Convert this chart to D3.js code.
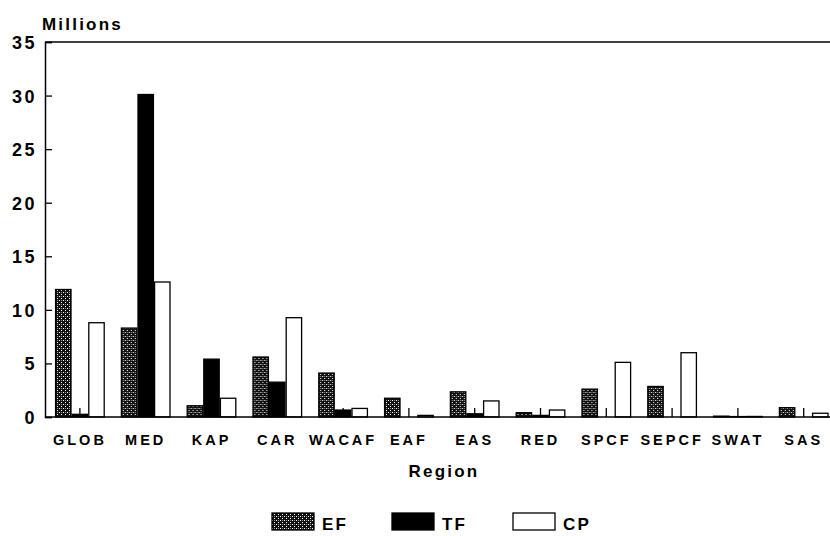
<!DOCTYPE html>
<html><head><meta charset="utf-8">
<script src="https://cdn.jsdelivr.net/npm/d3@7"></script>
<style>
html,body{margin:0;padding:0;background:#fff;}
text{font-family:"Liberation Sans",Arial,sans-serif;font-weight:bold;fill:#000;}
</style></head>
<body><svg id="c" width="830" height="536"></svg>
<script>
const regions = ["GLOB","MED","KAP","CAR","WACAF","EAF","EAS","RED","SPCF","SEPCF","SWAT","SAS"];
const seriesNames = ["EF","TF","CP"];
const EF = [11.9, 8.3, 1.05, 5.6, 4.1, 1.75, 2.35, 0.4, 2.6, 2.85, 0.08, 0.87];
const TF = [0.25, 30.1, 5.4, 3.25, 0.65, 0, 0.3, 0.15, 0, 0, 0.04, 0];
const CP = [8.8, 12.6, 1.75, 9.27, 0.8, 0.15, 1.5, 0.65, 5.1, 6.0, 0.05, 0.35];
const yTicks = [0,5,10,15,20,25,30,35];

const svg = d3.select("#c");
const defs = svg.append("defs");
const pat = defs.append("pattern").attr("id","dots").attr("patternUnits","userSpaceOnUse")
  .attr("width",4).attr("height",4);
pat.append("rect").attr("width",4).attr("height",4).attr("fill","#111");
pat.append("rect").attr("x",0).attr("y",0).attr("width",1).attr("height",1).attr("fill","#fff");
pat.append("rect").attr("x",2).attr("y",2).attr("width",1).attr("height",1).attr("fill","#fff");
pat.append("rect").attr("x",2).attr("y",0).attr("width",1).attr("height",1).attr("fill","#888");

const fills = {EF:"url(#dots)", TF:"#000", CP:"#fff"};
const values = {EF, TF, CP};

const x0 = d3.scaleBand().domain(regions).range([47, 47 + 12*65.8]).paddingInner(0.243).paddingOuter(0.1215);
const x1 = d3.scaleBand().domain(seriesNames).range([0, x0.bandwidth()]);
const y = d3.scaleLinear().domain([0,35]).range([417,42]);

// frame: top line
svg.append("line").attr("x1",45).attr("x2",830).attr("y1",y(35)).attr("y2",y(35)).attr("stroke","#000").attr("stroke-width",1.3);

// bars
regions.forEach((r,i)=>{
  const g = svg.append("g").attr("transform",`translate(${x0(r)},0)`);
  seriesNames.forEach(s=>{
    const v = values[s][i];
    if (v <= 0) return;
    g.append("rect")
      .attr("x", x1(s)+0.6).attr("width", x1.bandwidth()-1.2)
      .attr("y", y(v)).attr("height", y(0)-y(v))
      .attr("fill", fills[s]).attr("stroke","#000").attr("stroke-width",1.3);
  });
});

// y axis
const yAxis = d3.axisLeft(y).tickValues(yTicks).tickSize(-7).tickPadding(8).tickFormat(d3.format("d"));
const ya = svg.append("g").attr("transform","translate(45,0)").call(yAxis);
ya.select(".domain").attr("stroke","#000").attr("stroke-width",1.5);
ya.selectAll(".tick line").attr("stroke","#000").attr("stroke-width",1.3);
ya.selectAll(".tick text").attr("font-size",18).attr("font-family","Liberation Sans, Arial, sans-serif")
  .attr("font-weight","bold").attr("letter-spacing",2.5).attr("fill","#000").attr("dy","0.36em");

// x axis
const xAxis = d3.axisBottom(x0).tickSize(-9).tickPadding(18);
const xa = svg.append("g").attr("transform","translate(0,417)").call(xAxis);
xa.select(".domain").attr("d","M45,0H830").attr("stroke","#000").attr("stroke-width",1.5);
xa.selectAll(".tick line").attr("stroke","#000").attr("stroke-width",1.3);
xa.selectAll(".tick text").attr("font-size",14.5).attr("font-family","Liberation Sans, Arial, sans-serif")
  .attr("font-weight","bold").attr("letter-spacing",3).attr("fill","#000").attr("dy","0.71em");

// titles
svg.append("text").attr("x",42).attr("y",30).attr("font-size",17).attr("letter-spacing",2.2).text("Millions");
svg.append("text").attr("x",444).attr("y",477).attr("text-anchor","middle").attr("font-size",17).attr("letter-spacing",2.2).text("Region");

// legend
const legX = [272, 392, 513];
seriesNames.forEach((s,i)=>{
  svg.append("rect").attr("x",legX[i]).attr("y",513).attr("width",42).attr("height",17)
    .attr("fill",fills[s]).attr("stroke","#000").attr("stroke-width",1.3);
  svg.append("text").attr("x",legX[i]+50).attr("y",530).attr("font-size",17).attr("letter-spacing",2.2).text(s);
});
</script></body></html>
